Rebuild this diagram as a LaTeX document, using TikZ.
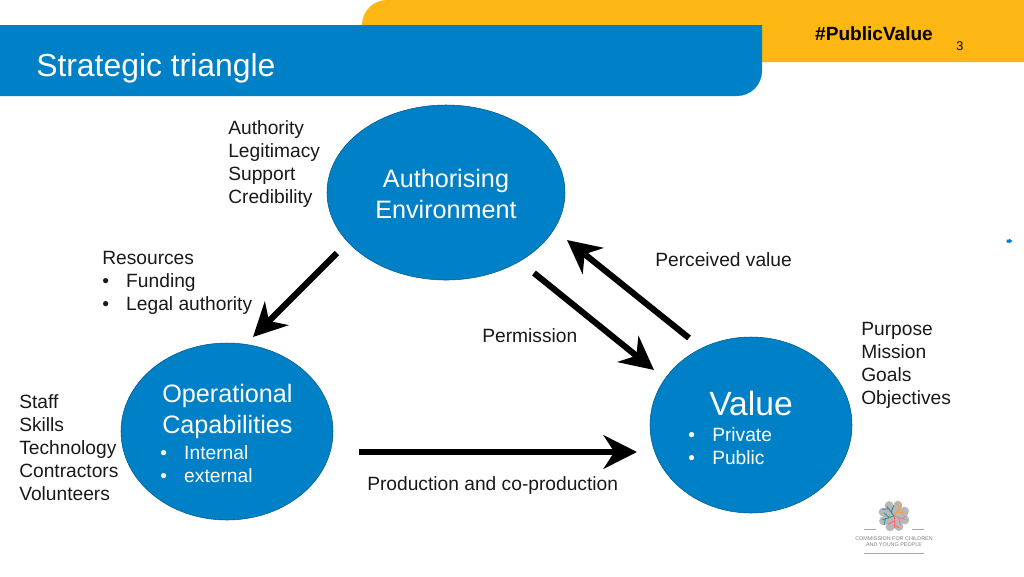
\documentclass[tikz,border=0pt]{standalone}
\usepackage{fontspec}
\setmainfont{Liberation Sans}
\usetikzlibrary{arrows.meta,positioning,shapes.geometric}
\definecolor{pvblue}{HTML}{0080C6}
\definecolor{pvyellow}{HTML}{FDB714}
\newcommand{\bul}[1]{\makebox[18pt][l]{\textbullet}#1}
\begin{document}
\begin{tikzpicture}[x=.75pt,y=-.75pt]
\tikzset{
oval/.style={ellipse,draw=pvblue!70!black,fill=pvblue,inner sep=0pt},
lbl/.style={align=left,anchor=north west,inner sep=0pt,font=\fontsize{14.4}{17.25}\selectfont,text=black!90},
big/.style={font=\fontsize{18.9}{22.8}\selectfont},
arr/.style={line width=4.6pt,-{Stealth[length=25pt,width=25pt,inset=8pt]}},
petal/.style={line width=.7pt,line cap=round}
}
\useasboundingbox (0,0) rectangle (1024,576);
% header
\fill[pvyellow] (362,62) -- (362,25) arc[start angle=180,end angle=270,radius=25] -- (1024,0) -- (1024,62) -- cycle;
\fill[pvblue] (0,25) -- (762,25) -- (762,71) arc[start angle=0,end angle=90,radius=25] -- (0,96) -- cycle;
\node[anchor=west,inner sep=0pt,text=white,font=\fontsize{23.9}{27}\selectfont] (title) at (36,68) {Strategic triangle};
\node[inner sep=0pt,font=\fontsize{14.3}{17}\bfseries\selectfont] (tag) at (874,33.5) {\#PublicValue};
\node[inner sep=0pt,font=\fontsize{9.5}{11}\selectfont] (page) at (960,46) {3};

% the three ovals
\node[oval,minimum width=178.5pt,minimum height=131.25pt] (auth) at (446,192.5) {};
\node[oval,minimum width=159pt,minimum height=132.75pt] (oper) at (227,431.5) {};
\node[oval,minimum width=151.5pt,minimum height=132pt] (val) at (751,425) {};

\node[big,align=center,text=white,inner sep=0pt] (authtxt) at (446,194) {Authorising\\Environment};
\node[lbl,big,text=white,font=\fontsize{18.9}{23}\selectfont] (opertxt) at (162,384) {Operational\\Capabilities};
\node[lbl,text=white] (operlist) at (160,445) {\bul{Internal}\\\bul{external}};
\node[inner sep=0pt,anchor=center,text=white,font=\fontsize{25.2}{30}\selectfont] (valtxt) at (751,403) {Value};
\node[lbl,text=white] (vallist) at (688,427.5) {\bul{Private}\\\bul{Public}};

% side labels
\node[lbl] (authlbl) at (228,120.5) {Authority\\Legitimacy\\Support\\Credibility};
\node[lbl] (reslbl) at (102,251) {Resources\\\bul{Funding}\\\bul{Legal authority}};
\node[lbl] (perc) at (655,252) {Perceived value};
\node[lbl] (perm) at (482,328.5) {Permission};
\node[lbl] (purp) at (861,322) {Purpose\\Mission\\Goals\\Objectives};
\node[lbl] (staff) at (19,394) {Staff\\Skills\\Technology\\Contractors\\Volunteers};
\node[lbl] (prod) at (367,476.5) {Production and co-production};

% arrows
\coordinate (a1) at (337,253);
\coordinate (a2) at (253,337);
\coordinate (b1) at (534,273);
\coordinate (b2) at (654,370);
\coordinate (c1) at (689,338);
\coordinate (c2) at (567,240);
\coordinate (d1) at (359,452);
\coordinate (d2) at (637,452);
\draw[arr] (a1) -- (a2);
\draw[arr] (b1) -- (b2);
\draw[arr] (c1) -- (c2);
\draw[arr,line width=5.2pt] (d1) -- (d2);

% small mark at the right edge
\fill[pvblue] (1006.5,239.5) -- (1009,239.5) -- (1009,238.5) -- (1012.5,241) -- (1009,243.5) -- (1009,242.5) -- (1006.5,242.5) -- cycle;

% logo
\fill[black!28] (894,516) circle[radius=11];
\foreach \ang in {0,45,...,315}{
  \fill[black!28] (894,516) ++(\ang+20:11.5) circle[radius=4.5];
}
\foreach \ang/\col in {90/red!60,162/teal!80,234/cyan!60!black,306/orange!80,18/purple!50}{
  \draw[petal,\col] (894,516) -- ++(\ang:12);
  \draw[petal,\col] (894,516) ++(\ang:5) -- ++(\ang+60:7);
  \draw[petal,\col] (894,516) ++(\ang:9) -- ++(\ang-60:6);
}
\draw[black!35,line width=.5pt] (864,529) -- (876,529) (912,529) -- (924,529) (864,553) -- (924,553);
\node[align=center,inner sep=0pt,text=black!50,font=\fontsize{4.05}{4.6}\selectfont] (logotxt) at (894,541.5) {COMMISSION FOR CHILDREN\\AND YOUNG PEOPLE};
\end{tikzpicture}
\end{document}
